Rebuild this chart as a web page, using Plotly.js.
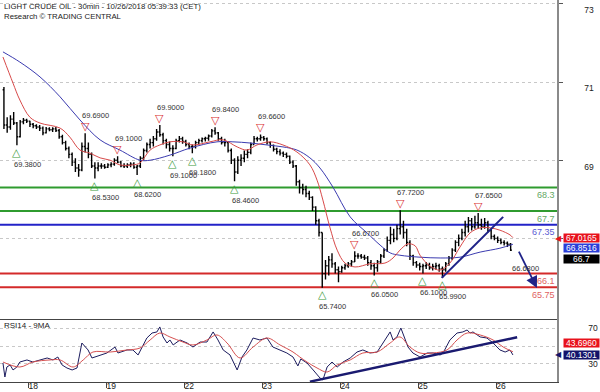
<!DOCTYPE html>
<html><head><meta charset="utf-8">
<script src="https://cdn.plot.ly/plotly-3.0.1.min.js"></script>
<style>html,body{margin:0;padding:0;background:#fff;}#chart{width:600px;height:392px;}</style>
</head><body><div id="chart"></div>
<script>
// ---- text ----
const title1 = 'LIGHT CRUDE OIL - 30min - 10/26/2018 05:39:33 (CET)';
const title2 = 'Research \u00A9 TRADING CENTRAL';
const rsiTitle = 'RSI14 - 9MA';

// ---- time axis (hours counted from Oct 18 00:00, trading days only) ----
const dayTicks = [0, 24, 48, 72, 96, 120, 144];
const dayLabels = ['18', '19', '22', '23', '24', '25', '26'];
const firstBarHour = -7.5;
const barHours = 1;

// ---- price bars (hourly) ----
const barOpen = [70.80,69.90,69.85,70.05,69.95,69.60,69.98,70.02,70.00,69.92,69.88,69.85,69.82,69.70,69.80,69.78,69.80,69.76,69.60,69.45,69.30,69.15,68.95,68.80,68.75,69.35,69.30,69.15,68.85,68.80,68.85,68.85,68.82,68.88,68.90,69.00,68.95,68.86,68.85,68.88,68.90,68.82,68.85,69.05,69.25,69.40,69.45,69.55,69.72,69.65,69.50,69.40,69.30,69.30,69.50,69.55,69.48,69.40,69.35,69.35,69.45,69.50,69.55,69.56,69.62,69.75,69.70,69.55,69.45,69.45,69.25,69.00,68.70,69.00,69.05,69.15,69.20,69.40,69.55,69.55,69.58,69.55,69.45,69.38,69.28,69.22,69.18,69.15,69.10,68.95,68.85,68.45,68.30,68.25,68.15,68.05,67.80,67.45,67.15,66.10,66.30,66.45,66.35,66.20,66.15,66.25,66.30,66.35,66.40,66.55,66.55,66.52,66.50,66.38,66.30,66.25,66.40,66.55,66.70,66.95,67.10,67.00,67.25,67.30,67.15,66.90,66.55,66.38,66.32,66.28,66.30,66.32,66.25,66.28,66.30,66.22,66.20,66.35,66.50,66.70,66.90,67.00,67.15,67.30,67.45,67.30,67.40,67.35,67.30,67.40,67.20,67.05,67.00,66.95,66.90,66.88,66.85];
const barHigh = [70.87,70.10,70.15,70.23,69.98,70.03,70.08,70.06,70.01,69.95,69.92,69.90,69.86,69.85,69.84,69.84,69.85,69.80,69.65,69.50,69.35,69.20,69.05,68.90,69.45,69.69,69.45,69.20,68.95,68.95,68.92,68.90,68.92,68.95,69.05,69.10,68.98,68.92,68.92,68.95,68.95,68.88,69.10,69.30,69.45,69.55,69.62,69.80,69.90,69.70,69.55,69.48,69.38,69.55,69.62,69.60,69.52,69.45,69.40,69.50,69.55,69.58,69.60,69.66,69.80,69.84,69.72,69.60,69.55,69.48,69.30,69.05,69.10,69.15,69.25,69.28,69.45,69.62,69.60,69.66,69.62,69.58,69.48,69.40,69.32,69.28,69.22,69.20,69.12,69.00,68.88,68.50,68.40,68.35,68.22,68.08,67.82,67.50,67.15,66.45,66.55,66.62,66.40,66.28,66.30,66.35,66.40,66.45,66.67,66.62,66.60,66.58,66.55,66.45,66.38,66.45,66.60,66.75,67.05,67.30,67.25,67.35,67.72,67.45,67.25,66.95,66.58,66.42,66.38,66.35,66.40,66.38,66.35,66.38,66.35,66.28,66.40,66.55,66.75,66.95,67.10,67.25,67.45,67.55,67.52,67.58,67.65,67.50,67.52,67.45,67.25,67.10,67.05,67.00,66.95,66.92,66.88];
const barLow = [69.80,69.70,69.78,69.90,69.38,69.58,69.92,69.95,69.85,69.82,69.80,69.75,69.64,69.68,69.74,69.72,69.72,69.55,69.40,69.25,69.05,68.85,68.70,68.58,68.72,69.20,69.05,68.80,68.53,68.72,68.78,68.78,68.80,68.82,68.86,68.92,68.82,68.80,68.80,68.82,68.78,68.62,68.80,69.00,69.20,69.30,69.35,69.50,69.60,69.40,69.30,69.22,69.10,69.28,69.45,69.42,69.35,69.28,69.18,69.30,69.40,69.45,69.48,69.50,69.58,69.65,69.50,69.40,69.35,69.20,68.90,68.46,68.65,68.85,68.95,69.05,69.15,69.40,69.48,69.50,69.50,69.40,69.32,69.22,69.15,69.12,69.08,69.05,68.90,68.80,68.35,68.15,68.12,68.05,67.98,67.70,67.35,67.05,65.74,65.95,66.05,66.25,66.10,65.88,66.12,66.20,66.25,66.28,66.40,66.48,66.48,66.45,66.30,66.20,66.05,66.15,66.35,66.50,66.65,66.85,66.90,66.95,67.10,67.00,66.80,66.45,66.30,66.25,66.18,66.10,66.22,66.20,66.18,66.20,66.15,65.99,66.15,66.30,66.45,66.65,66.80,66.95,67.05,67.15,67.20,67.25,67.25,67.22,67.25,67.15,66.98,66.95,66.88,66.85,66.82,66.78,66.68];
const barClose = [69.90,69.85,70.05,69.95,69.60,69.98,70.02,70.00,69.92,69.88,69.85,69.82,69.70,69.80,69.78,69.80,69.76,69.60,69.45,69.30,69.15,68.95,68.80,68.75,69.35,69.30,69.15,68.85,68.80,68.85,68.85,68.82,68.88,68.90,69.00,68.95,68.86,68.85,68.88,68.90,68.82,68.85,69.05,69.25,69.40,69.45,69.55,69.72,69.65,69.50,69.40,69.30,69.30,69.50,69.55,69.48,69.40,69.35,69.35,69.45,69.50,69.55,69.56,69.62,69.75,69.70,69.55,69.45,69.45,69.25,69.00,68.70,69.00,69.05,69.15,69.20,69.40,69.55,69.55,69.58,69.55,69.45,69.38,69.28,69.22,69.18,69.15,69.10,68.95,68.85,68.45,68.30,68.25,68.15,68.05,67.80,67.45,67.15,66.10,66.30,66.45,66.35,66.20,66.15,66.25,66.30,66.35,66.40,66.55,66.55,66.52,66.50,66.38,66.30,66.25,66.40,66.55,66.70,66.95,67.10,67.00,67.25,67.30,67.15,66.90,66.55,66.38,66.32,66.28,66.30,66.32,66.25,66.28,66.30,66.22,66.20,66.35,66.50,66.70,66.90,67.00,67.15,67.30,67.45,67.30,67.40,67.35,67.30,67.40,67.20,67.05,67.00,66.95,66.90,66.88,66.85,66.70];

// ---- moving averages on price ----
const maFastX = [-7.8,-4.7,-2.6,0.5,3.6,9.8,12.8,15.9,19.0,22.1,25.2,28.2,32.2,34.4,37.5,40.5,43.6,47.6,50.7,55.9,60.0,64.3,67.3,70.4,74.4,78.4,82.7,86.7,88.9,90.7,92.9,95.1,97.5,100.6,105.2,109.8,112.3,114.4,116.9,119.1,120.6,123.7,126.8,129.8,132.9,136.0,139.1,142.2,145.2,148.3,149.2];
const maFastY = [71.64,70.97,70.54,70.10,69.95,69.82,69.59,69.26,69.18,69.06,69.00,68.88,68.88,68.93,69.26,69.39,69.47,69.47,69.39,69.47,69.52,69.34,69.26,69.39,69.47,69.39,69.21,68.88,68.49,67.98,67.27,66.70,66.37,66.27,66.35,66.37,66.50,66.70,66.86,66.81,66.57,66.29,66.19,66.37,66.78,67.14,67.27,67.27,67.21,67.09,67.02];
const maSlowX = [-7.8,-2.6,3.6,9.8,15.9,22.1,28.2,34.4,37.5,43.6,49.8,58.1,63.0,68.3,73.5,78.4,82.7,86.7,89.8,93.8,99.1,104.3,108.3,111.4,114.4,120.6,126.8,132.9,139.1,145.2,149.2];
const maSlowY = [71.77,71.51,71.13,70.62,70.03,69.52,69.26,69.00,69.00,69.13,69.31,69.47,69.47,69.44,69.39,69.34,69.26,69.06,68.80,68.31,67.55,67.14,66.83,66.63,66.57,66.52,66.50,66.52,66.65,66.75,66.85];

// ---- pivots ----
const pivotLowX = [-3.5, 20.5, 33.5, 44.5, 50.5, 63.5, 90.5, 106.5, 121.5, 127.5];
const pivotLowY = [69.38, 68.53, 68.62, 69.10, 69.18, 68.46, 65.74, 66.05, 66.10, 65.99];
const pivotHighX = [17.5, 27.5, 40.5, 57.5, 71.5, 100.5, 114.5, 138.5];
const pivotHighY = [69.69, 69.10, 69.90, 69.84, 69.66, 66.67, 67.72, 67.65];

// ---- key levels ----
const levelValues = [68.3, 67.7, 67.35, 66.1, 65.75];
const levelLabels = ['68.3', '67.7', '67.35', '66.1', '65.75'];

// ---- trend lines, target ----
const priceTrendX = [127.3, 146.2];
const priceTrendY = [65.99, 67.55];
const targetFrom = [150.8, 66.70];
const targetTo = [156.6, 65.73];
const targetText = '66.6800';
const targetTextAt = [148.3, 66.22];

// ---- last values ----
const lastPrice = 66.7;
const lastFastMA = 67.0165;
const lastSlowMA = 66.8516;

// ---- RSI ----
const rsiX = [-7.8,-7.2,-6.6,-5.6,-4.7,-3.5,-2.6,-0.4,1.4,3.6,5.8,7.6,9.1,10.4,11.9,13.5,15.0,16.5,17.5,18.4,19.6,20.5,22.1,24.2,26.7,27.6,30.4,32.2,33.8,35.0,36.5,38.1,39.6,40.5,41.5,42.7,43.6,44.6,46.7,48.9,50.7,52.9,55.0,56.9,58.4,60.0,62.1,64.3,65.8,67.3,69.2,71.3,73.5,75.3,77.5,79.6,81.5,83.0,83.9,85.8,87.7,89.8,90.7,92.0,93.5,95.1,96.9,99.1,101.2,103.0,105.2,107.4,109.2,111.4,112.3,113.5,114.7,116.0,116.9,118.4,120.6,122.8,124.6,126.8,127.7,129.8,132.0,133.8,135.1,136.0,136.9,139.1,141.2,143.1,145.2,146.8,148.3,149.2];
const rsiY = [31.1,15.4,26.6,28.9,23.3,26.6,32.2,34.5,32.2,34.5,36.7,34.5,37.8,28.9,25.5,23.3,25.5,53.5,49.0,45.7,36.7,37.8,40.1,42.3,49.0,42.3,45.7,45.7,40.1,49.0,59.1,64.7,65.9,71.5,60.3,53.5,56.9,51.3,56.9,53.5,49.0,54.6,54.6,65.9,56.9,45.7,40.1,23.3,37.8,45.7,59.1,56.9,59.1,49.0,45.7,42.3,37.8,27.8,35.6,31.1,23.3,14.3,12.1,26.6,32.2,26.6,32.2,36.7,43.4,45.7,42.3,43.4,53.5,65.9,56.9,60.3,70.3,56.9,49.0,42.3,37.8,42.3,42.3,40.1,42.3,56.9,64.7,65.9,68.1,64.7,65.9,60.3,59.1,53.5,45.7,43.4,45.7,40.1];
const rsiMaX = [-7.8,-2.6,1.4,6.7,9.8,13.8,16.9,19.9,25.2,30.4,34.4,37.5,40.5,43.6,47.6,50.7,55.0,58.1,61.2,65.2,69.2,73.5,77.5,81.5,83.6,85.8,88.9,92.0,95.1,99.1,103.0,107.4,111.4,114.4,117.5,120.6,124.6,128.9,132.0,135.1,139.1,143.1,146.2,149.2];
const rsiMaY = [32.2,26.6,32.2,34.5,34.5,26.6,34.5,43.4,43.4,45.7,47.9,56.9,64.7,60.3,54.6,51.3,56.9,62.5,53.5,36.7,49.0,59.1,51.3,43.4,37.8,32.2,25.5,21.0,28.9,34.5,42.3,43.4,53.5,60.3,49.0,42.3,42.3,45.7,56.9,64.7,62.5,56.9,49.0,43.7];
const rsiTrendX = [86.7, 150.5];
const rsiTrendY = [10.2, 59.9];
const lastRsi = 40.1301;
const lastRsiMa = 43.6960;

// ---- styles ----
const FONT = 'Liberation Sans, Arial, sans-serif';
const GREEN = '#2f9b2f', BLUE = '#2323c8', RED = '#d42a2a', NAVY = '#1f2388';
const levelColors = [GREEN, GREEN, BLUE, RED, RED];
const levelTextColors = ['#64a864', '#64a864', '#5a5ad2', '#e06262', '#e06262'];

const barX = barOpen.map((_, i) => firstBarHour + i * barHours);

const traces = [
  {type: 'ohlc', x: barX, open: barOpen, high: barHigh, low: barLow, close: barClose,
   xaxis: 'x', yaxis: 'y', tickwidth: 0.4, hoverinfo: 'skip', showlegend: false,
   increasing: {line: {color: '#000', width: 1.4}}, decreasing: {line: {color: '#000', width: 1.4}}},
  {type: 'scatter', mode: 'lines', x: maSlowX, y: maSlowY, xaxis: 'x', yaxis: 'y',
   line: {color: '#3b3bb0', width: 1, shape: 'spline'}, hoverinfo: 'skip'},
  {type: 'scatter', mode: 'lines', x: maFastX, y: maFastY, xaxis: 'x', yaxis: 'y',
   line: {color: '#d84a4a', width: 1, shape: 'spline'}, hoverinfo: 'skip'},
  {type: 'scatter', mode: 'lines', x: priceTrendX, y: priceTrendY, xaxis: 'x', yaxis: 'y',
   line: {color: NAVY, width: 2}, hoverinfo: 'skip'},
  {type: 'scatter', mode: 'lines', x: rsiX, y: rsiY, xaxis: 'x2', yaxis: 'y2',
   line: {color: '#1c1c5e', width: 1}, hoverinfo: 'skip'},
  {type: 'scatter', mode: 'lines', x: rsiMaX, y: rsiMaY, xaxis: 'x2', yaxis: 'y2',
   line: {color: '#d65050', width: 1, shape: 'spline'}, hoverinfo: 'skip'},
  {type: 'scatter', mode: 'lines', x: rsiTrendX, y: rsiTrendY, xaxis: 'x2', yaxis: 'y2',
   line: {color: '#1a1a70', width: 2.5}, hoverinfo: 'skip'}
];

const shapes = levelValues.map((v, i) => ({
  type: 'line', xref: 'paper', x0: 0, x1: 1, yref: 'y', y0: v, y1: v,
  line: {color: levelColors[i], width: 2}, layer: 'below'
}));

const ann = [];
// titles
ann.push({xref: 'paper', yref: 'paper', x: 0.004, y: 1, xanchor: 'left', yanchor: 'top', text: title1,
  showarrow: false, font: {family: FONT, size: 7.8, color: '#222'}});
ann.push({xref: 'paper', yref: 'paper', x: 0.004, y: 0.974, xanchor: 'left', yanchor: 'top', text: title2,
  showarrow: false, font: {family: FONT, size: 7.8, color: '#222'}});
ann.push({xref: 'paper', yref: 'paper', x: 0.004, y: 0.149, xanchor: 'left', yanchor: 'middle', text: rsiTitle,
  showarrow: false, font: {family: FONT, size: 8, color: '#222'}});
// pivots
pivotLowX.forEach((x, i) => {
  ann.push({x: x, y: pivotLowY[i], xref: 'x', yref: 'y', text: '\u25B3', showarrow: false, yshift: -7,
    font: {family: 'DejaVu Sans', size: 11, color: '#3c9a3c'}});
  ann.push({x: x, y: pivotLowY[i], xref: 'x', yref: 'y', text: pivotLowY[i].toFixed(4), showarrow: false,
    xanchor: 'left', xshift: -5, yshift: -19, font: {family: FONT, size: 7.5, color: '#333'}});
});
pivotHighX.forEach((x, i) => {
  ann.push({x: x, y: pivotHighY[i], xref: 'x', yref: 'y', text: '\u25BD', showarrow: false, yshift: 7,
    font: {family: 'DejaVu Sans', size: 11, color: '#d93030'}});
  ann.push({x: x, y: pivotHighY[i], xref: 'x', yref: 'y', text: pivotHighY[i].toFixed(4), showarrow: false,
    xanchor: 'left', xshift: -5, yshift: 18, font: {family: FONT, size: 7.5, color: '#333'}});
});
// level labels
levelValues.forEach((v, i) => {
  ann.push({xref: 'paper', x: 1, xanchor: 'right', yref: 'y', y: v, yanchor: 'top', yshift: -0.5,
    text: levelLabels[i], showarrow: false, font: {family: FONT, size: 9, color: levelTextColors[i]}});
});
// target arrow and label
ann.push({xref: 'x', yref: 'y', x: targetTo[0], y: targetTo[1], axref: 'x', ayref: 'y',
  ax: targetFrom[0], ay: targetFrom[1], text: '', showarrow: true, arrowhead: 2, arrowsize: 1.3,
  arrowwidth: 1.8, arrowcolor: NAVY});
ann.push({xref: 'x', yref: 'y', x: targetTextAt[0], y: targetTextAt[1], xanchor: 'left', text: targetText,
  showarrow: false, font: {family: FONT, size: 7.5, color: '#333'}});
// right side value boxes
function box(yref, v, shift, text, bg, tip) {
  ann.push({xref: 'paper', x: 1.0108, xanchor: 'left', yref: yref, y: v, yshift: shift, text: text,
    showarrow: false, bgcolor: bg, width: 35, height: 8, borderpad: 0,
    font: {family: FONT, size: 8.5, color: '#fff'}});
  if (tip) {
    ann.push({xref: 'paper', x: 1.0108, xanchor: 'right', yref: yref, y: v, yshift: shift, text: '\u25C0',
      showarrow: false, borderpad: 0, font: {family: 'DejaVu Sans', size: 8, color: bg}});
  }
}
box('y', lastFastMA, -0.5, lastFastMA.toFixed(4), '#e8121c', true);
box('y', lastSlowMA, -4, lastSlowMA.toFixed(4), '#2a3ed8', false);
box('y', lastPrice, -8.5, String(lastPrice), '#000000', false);
box('y2', lastRsiMa, 8.3, lastRsiMa.toFixed(4), '#e8121c', false);
box('y2', lastRsi, 0, lastRsi.toFixed(4), '#13136a', true);

const axisCommon = {zeroline: false, fixedrange: true, automargin: false};
const layout = {
  width: 600, height: 392, margin: {l: 0, r: 43, t: 0, b: 10},
  paper_bgcolor: '#fff', plot_bgcolor: '#fff', showlegend: false,
  font: {family: FONT, size: 8, color: '#222'},
  xaxis: Object.assign({}, axisCommon, {domain: [0, 1], anchor: 'y', range: [-8.71, 162.77],
    showticklabels: false, ticks: '', showgrid: false, showline: true, linecolor: '#444', linewidth: 1,
    rangeslider: {visible: false}}),
  yaxis: Object.assign({}, axisCommon, {domain: [0.1649, 1], anchor: 'x', side: 'right',
    range: [64.939, 73.097], tickvals: [67, 69, 71, 73], ticktext: ['', '69', '71', '73'],
    ticks: 'outside', ticklen: 4, tickcolor: '#555', showline: true, linecolor: '#8a8a8a', linewidth: 1.5,
    showgrid: true, gridcolor: '#c8c8c8', griddash: 'dot', gridwidth: 1, ticklabelstandoff: 24,
    ticklabelposition: 'outside bottom',
    tickfont: {family: FONT, size: 8.5, color: '#222'}}),
  xaxis2: Object.assign({}, axisCommon, {domain: [0, 1], anchor: 'y2', matches: 'x',
    tickvals: dayTicks, ticktext: dayLabels, ticks: 'outside', ticklen: 5, tickcolor: '#444',
    showline: true, linecolor: '#444', linewidth: 1, showgrid: false, ticklabelshift: 5,
    ticklabelstandoff: -9, tickfont: {family: FONT, size: 8.5, color: '#222'}, rangeslider: {visible: false}}),
  yaxis2: Object.assign({}, axisCommon, {domain: [0, 0.1649], anchor: 'x2', side: 'right',
    range: [9.8, 80.4], tickvals: [30, 50, 70], ticktext: ['30', '', '70'],
    ticks: '', showline: true, linecolor: '#8a8a8a', linewidth: 1.5,
    showgrid: true, gridcolor: '#c8c8c8', griddash: 'dot', gridwidth: 1, ticklabelstandoff: 28,
    tickfont: {family: FONT, size: 8.5, color: '#222'}}),
  shapes: shapes,
  annotations: ann
};

Plotly.newPlot('chart', traces, layout, {displayModeBar: false, staticPlot: true});
</script>
</body></html>
